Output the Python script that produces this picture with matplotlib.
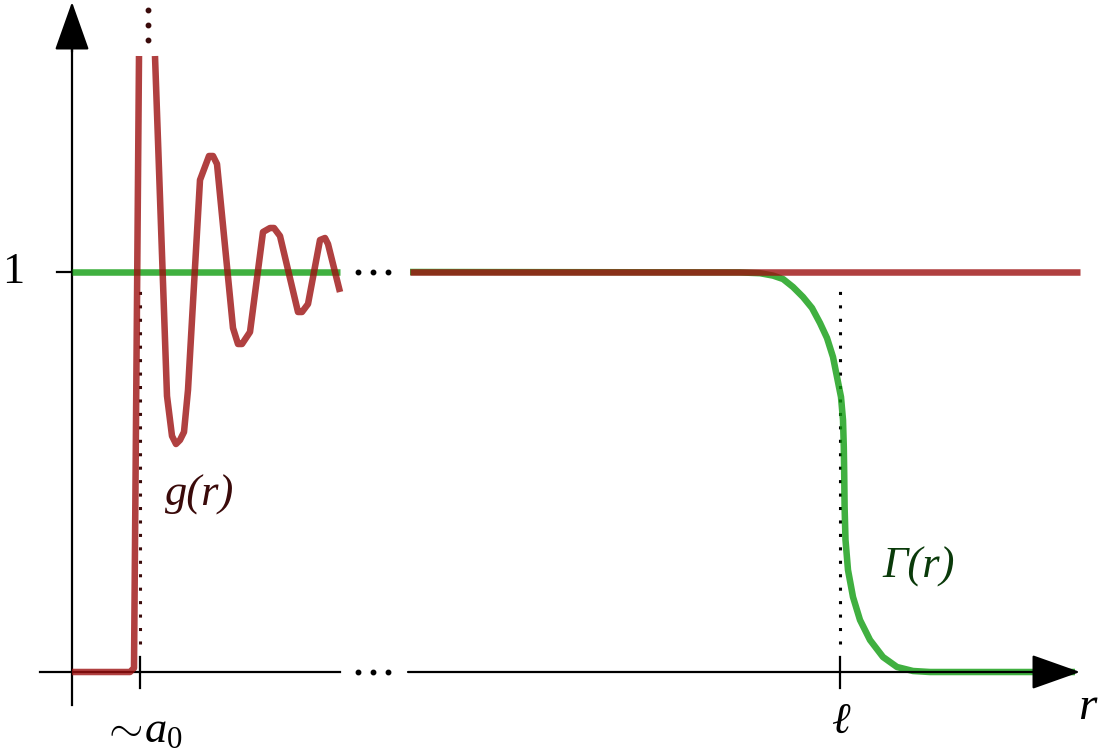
import numpy as np
import matplotlib.pyplot as plt

plt.rcParams['mathtext.fontset'] = 'custom'
plt.rcParams['mathtext.rm'] = 'Liberation Serif'
plt.rcParams['mathtext.it'] = 'Liberation Serif:italic'

# r in drawing units (left edge of canvas = 0), values in units of the plateau (1)
g_r = [72, 130, 134, 139, np.nan, 155, 167, 172, 176, 180, 184, 188, 200, 209, 213, 217,
       233, 238, 242, 250, 263, 270, 274, 280, 298, 302, 308, 320, 325, 328, 340]
g_val = [0.0, 0.0, 0.01, 1.54, np.nan, 1.54, 0.69, 0.59, 0.57, 0.58, 0.60, 0.705, 1.23, 1.29,
         1.29, 1.27, 0.86, 0.82, 0.82, 0.85, 1.10, 1.11, 1.11, 1.09, 0.90, 0.90, 0.92,
         1.08, 1.085, 1.07, 0.95]
g_far_r = [410, 1080]
g_far_val = [1.0, 1.0]

gam_near_r = [72, 340]
gam_near_val = [1.0, 1.0]
gam_r = [410, 740, 760, 773, 783, 793, 803, 812, 820, 827, 833, 837, 841, 843, 843.8,
         844.2, 844.6, 845.5, 848, 853, 860, 870, 883, 897, 913, 930, 1075]
gam_val = [1.0, 0.999, 0.997, 0.991, 0.9825, 0.9625, 0.9375, 0.91, 0.8725, 0.835, 0.7875,
           0.7375, 0.6875, 0.63, 0.5625, 0.4975, 0.4125, 0.33, 0.255, 0.1875, 0.13, 0.08,
           0.0375, 0.0125, 0.0025, 0.0, 0.0]

a0 = 140
ell = 840

red = '#9c1010'
green = '#109c10'
lw_curve = 4.7
lw_axis = 1.6

fig = plt.figure(figsize=(11, 7.5), dpi=100)
ax = fig.add_axes([0, 0, 1, 1])
ax.set_xlim(0, 1100)
ax.set_ylim(-0.195, 1.68)
ax.axis('off')

# axes
head = dict(arrowstyle='-|>,head_length=1.55,head_width=0.55', lw=lw_axis,
            color='k', mutation_scale=20, shrinkA=0, shrinkB=0)
ax.plot([72, 72], [-0.0825, 1.6], color='k', lw=lw_axis)
ax.annotate('', xy=(72, 1.675), xytext=(72, 1.55), arrowprops=head)
ax.plot([40, 340], [0, 0], color='k', lw=lw_axis)
ax.annotate('', xy=(1080, 0), xytext=(408, 0), arrowprops=head)
ax.plot([358, 373, 388], [0, 0, 0], 'o', color='k', ms=3.2)
ax.plot([358, 373, 388], [1, 1, 1], 'o', color='k', ms=3.2)

# ticks
ax.plot([57, 72], [1, 1], color='k', lw=lw_axis)
for xt in [a0, ell]:
    ax.plot([xt, xt], [-0.04, 0.0375], color='k', lw=lw_axis)

# dotted guides
ax.plot([a0, a0], [0.07, 0.97], color='#3a0a0a', lw=2.2, ls=(0, (1, 3.4)), dash_capstyle='butt')
ax.plot([ell, ell], [0.07, 0.97], color='k', lw=2.2, ls=(0, (1, 3.4)), dash_capstyle='butt')
ax.plot([148, 148, 148], [1.58, 1.6175, 1.655], 'o', color='#3a0a0a', ms=3.2)

# curves
ax.plot(gam_near_r, gam_near_val, color=green, lw=lw_curve, alpha=0.8, solid_capstyle='butt')
ax.plot(gam_r, gam_val, color=green, lw=lw_curve, alpha=0.8, solid_capstyle='butt',
        solid_joinstyle='round')
ax.plot(g_r, g_val, color=red, lw=lw_curve, alpha=0.8, solid_capstyle='butt',
        solid_joinstyle='round')
ax.plot(g_far_r, g_far_val, color=red, lw=lw_curve, alpha=0.8, solid_capstyle='butt')

# labels
fs = 32
serif = ['Liberation Serif', 'DejaVu Serif']
ax.text(2, 1.0, '1', fontsize=fs, family=serif, ha='left', va='center')
ax.text(200, 0.4425, 'g(r)', fontsize=fs, family=serif, style='italic',
        color='#3a0a0a', ha='center', va='center')
ax.text(919, 0.2625, 'Γ(r)', fontsize=fs, family=serif, style='italic',
        color='#0a3a0a', ha='center', va='center')
ax.text(142, -0.145, r'$\mathrm{\sim}\!a_{\mathit{0}}$', fontsize=fs, ha='center', va='center')
ax.text(ell, -0.125, 'ℓ', fontsize=fs, family=serif, style='italic', ha='center', va='center')
ax.text(1087, -0.09, 'r', fontsize=fs + 2, family=serif, style='italic',
        ha='center', va='center')

fig.savefig('out.png', dpi=100)
